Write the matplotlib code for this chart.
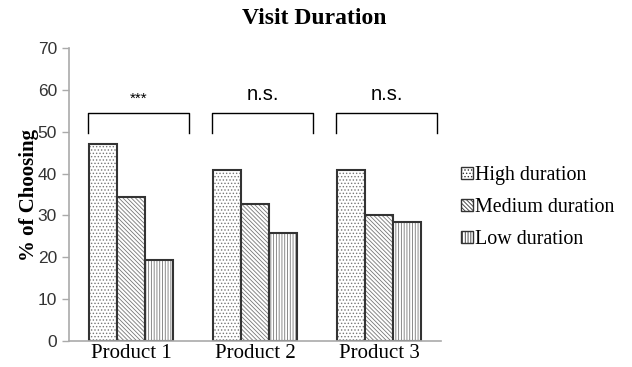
import numpy as np
import matplotlib.pyplot as plt
from matplotlib.patches import Patch

# Visit duration: % of participants choosing each product
products = ['Product 1', 'Product 2', 'Product 3']
series = ['High duration', 'Medium duration', 'Low duration']
high = [47.0, 40.8, 40.8]
medium = [34.5, 32.7, 30.0]
low = [19.3, 25.9, 28.5]
signif = ['***', 'n.s.', 'n.s.']

hatches = ['.....', '\\\\\\\\\\\\\\\\', '||||||']
values = [high, medium, low]

plt.rcParams['hatch.linewidth'] = 0.6
plt.rcParams['hatch.color'] = '#777777'

fig = plt.figure(figsize=(6.32, 3.67), dpi=100)
ax = fig.add_axes([0.109, 0.071, 0.589, 0.798])

x = np.arange(len(products))
w = 0.226
for i, (vals, h) in enumerate(zip(values, hatches)):
    pos = x + (i - 1) * w
    ax.bar(pos, vals, w, color='white', edgecolor='#777777', hatch=h, linewidth=0)
    ax.bar(pos, vals, w, fill=False, edgecolor='#333333', linewidth=1.5)

# significance brackets above each group
for xi, s in zip(x, signif):
    x0, x1 = xi - 0.35, xi + 0.47
    ax.plot([x0, x0, x1, x1], [49.7, 54.5, 54.5, 49.7], color='black', lw=1.0,
            clip_on=False)
    if s == '***':
        ax.text(xi + 0.065, 58.0, s, ha='center', va='center', fontsize=11,
                family='Liberation Sans')
    else:
        ax.text(xi + 0.065, 58.8, s, ha='center', va='center', fontsize=14.5,
                family='Liberation Sans')

ax.set_xlim(-0.5, 2.5)
ax.set_ylim(0, 70)
ax.set_yticks(range(0, 71, 10))
ax.set_xticks(x)
ax.set_xticklabels(products, family='Liberation Serif', fontsize=15)
for lab in ax.get_yticklabels():
    lab.set_family('Liberation Sans')
    lab.set_fontsize(12.5)
ax.tick_params(axis='y', colors='#aaaaaa', labelcolor='#333333', length=5, width=1)
ax.tick_params(axis='x', length=0, pad=2, labelcolor='black')
for side in ['top', 'right']:
    ax.spines[side].set_visible(False)
for side in ['left', 'bottom']:
    ax.spines[side].set_color('#aaaaaa')
    ax.spines[side].set_linewidth(1.2)

ax.set_ylabel('% of Choosing', family='Liberation Serif', fontweight='bold',
              fontsize=15, labelpad=-1)
fig.text(0.498, 0.95, 'Visit Duration', ha='center', va='center',
         family='Liberation Serif', fontweight='bold', fontsize=17)

handles = [Patch(facecolor='white', edgecolor='#333333', hatch=h, linewidth=1.0)
           for h in hatches]
ax.legend(handles, series, loc='center left', bbox_to_anchor=(1.0, 0.455),
          frameon=False, prop={'family': 'Liberation Serif', 'size': 14.4},
          handlelength=0.6, handleheight=0.6, handletextpad=0.1,
          labelspacing=0.65, borderaxespad=0.6)

fig.savefig('out.png', dpi=100)
